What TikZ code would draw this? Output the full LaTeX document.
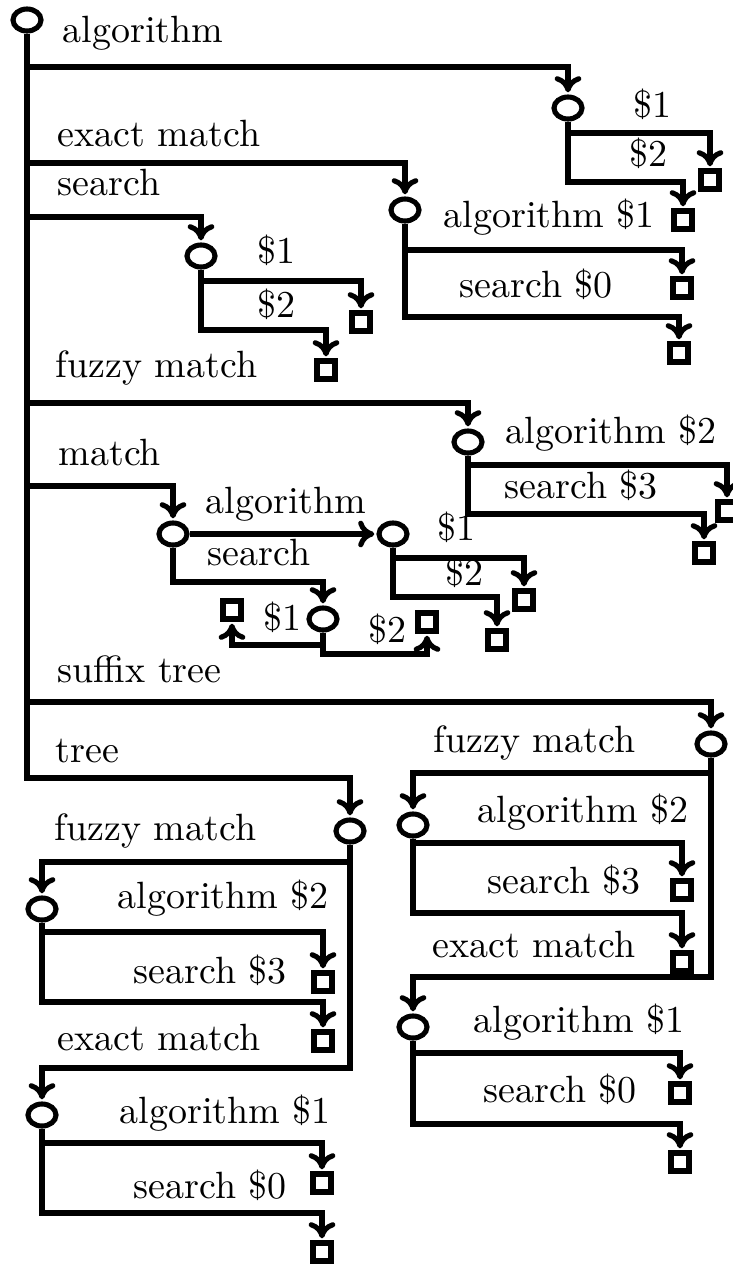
\documentclass[tikz,border=0pt]{standalone}
\usepackage{tikz}
\usetikzlibrary{arrows.meta,shapes.geometric}

\begin{document}
\begin{tikzpicture}[
  x=0.01cm, y=-0.01cm, >={Computer Modern Rightarrow[length=4.6pt,width=7.6pt]},
  state/.style={draw, ellipse, line width=1.45pt, minimum width=0.28cm, minimum height=0.22cm, inner sep=0pt},
  leaf/.style={draw, rectangle, line width=1.45pt, minimum size=0.18cm, inner sep=0pt},
  arrow/.style={->, line width=1.45pt, shorten >=0.6pt},
  lbl/.style={anchor=base west, inner sep=0pt, font=\fontsize{10.8}{13}\selectfont}
]
\useasboundingbox (0,0) rectangle (733,1266);

% states and leaves
\node[state] (root) at (27,20) {};
\node[state] (alg) at (568,108) {};
\node[leaf] (alg1) at (710,180) {};
\node[leaf] (alg2) at (683,220) {};
\node[state] (exact) at (405,210) {};
\node[leaf] (exact1) at (682,288) {};
\node[leaf] (exact2) at (679,353) {};
\node[state] (srch) at (201,256) {};
\node[leaf] (srch1) at (361,322) {};
\node[leaf] (srch2) at (326,370) {};
\node[state] (fuzzy) at (468,442) {};
\node[leaf] (fuzzy1) at (727,511) {};
\node[leaf] (fuzzy2) at (704,553) {};
\node[state] (match) at (173,534) {};
\node[state] (malg) at (393,534) {};
\node[leaf] (malg1) at (524,600) {};
\node[leaf] (malg2) at (497,640) {};
\node[state] (msrch) at (323,619) {};
\node[leaf] (msrch1) at (232,610) {};
\node[leaf] (msrch2) at (427,622) {};
\node[state] (sfx) at (711,744) {};
\node[state] (sfxf) at (413,825) {};
\node[leaf] (sfxf1) at (682,890) {};
\node[leaf] (sfxf2) at (682,962) {};
\node[state] (sfxe) at (413,1027) {};
\node[leaf] (sfxe1) at (680,1093) {};
\node[leaf] (sfxe2) at (680,1162) {};
\node[state] (tree) at (350,831) {};
\node[state] (treef) at (42,909) {};
\node[leaf] (treef1) at (323,982) {};
\node[leaf] (treef2) at (323,1041) {};
\node[state] (treee) at (42,1115) {};
\node[leaf] (treee1) at (322,1183) {};
\node[leaf] (treee2) at (322,1252) {};

% labels
\node[lbl] (l-alg) at (62,42) {algorithm};
\node[lbl] (l-exact) at (57,146) {exact match};
\node[lbl] (l-srch) at (57,195) {search};
\node[lbl] (l-fuzzy) at (55,377) {fuzzy match};
\node[lbl] (l-match) at (58,465) {match};
\node[lbl] (l-sfx) at (57,682) {suffix tree};
\node[lbl] (l-tree) at (55,762) {tree};
\node[lbl] (l-alg1) at (633,117) {\$1};
\node[lbl] (l-alg2) at (629,166) {\$2};
\node[lbl] (l-exact1) at (443,227) {algorithm \$1};
\node[lbl] (l-exact2) at (459,297) {search \$0};
\node[lbl] (l-srch1) at (257,263) {\$1};
\node[lbl] (l-srch2) at (257,317) {\$2};
\node[lbl] (l-fuzzy1) at (505,443) {algorithm \$2};
\node[lbl] (l-fuzzy2) at (504,498) {search \$3};
\node[lbl] (l-malg) at (205,513) {algorithm};
\node[lbl] (l-msrch) at (207,565) {search};
\node[lbl] (l-malg1) at (437,540) {\$1};
\node[lbl] (l-malg2) at (445,585) {\$2};
\node[lbl] (l-msrch1) at (263,630) {\$1};
\node[lbl] (l-msrch2) at (368,642) {\$2};
\node[lbl] (l-sfxf) at (433,752) {fuzzy match};
\node[lbl] (l-sfxe) at (432,957) {exact match};
\node[lbl] (l-sfxf1) at (477,822) {algorithm \$2};
\node[lbl] (l-sfxf2) at (487,893) {search \$3};
\node[lbl] (l-sfxe1) at (473,1032) {algorithm \$1};
\node[lbl] (l-sfxe2) at (483,1102) {search \$0};
\node[lbl] (l-treef) at (54,840) {fuzzy match};
\node[lbl] (l-treee) at (57,1050) {exact match};
\node[lbl] (l-treef1) at (117,908) {algorithm \$2};
\node[lbl] (l-treef2) at (133,983) {search \$3};
\node[lbl] (l-treee1) at (119,1123) {algorithm \$1};
\node[lbl] (l-treee2) at (133,1198) {search \$0};

% trunk
\draw[arrow] (root) -- (root |- 0,778) -| (tree);
\draw[arrow] (root |- 0,67) -| (alg);
\draw[arrow] (root |- 0,163) -| (exact);
\draw[arrow] (root |- 0,217) -| (srch);
\draw[arrow] (root |- 0,403) -| (fuzzy);
\draw[arrow] (root |- 0,486) -| (match);
\draw[arrow] (root |- 0,702) -| (sfx);
% algorithm
\draw[arrow] (alg) -- (alg |- 0,182) -| (alg2);
\draw[arrow] (alg |- 0,133) -| (alg1);
% exact match
\draw[arrow] (exact) -- (exact |- 0,317) -| (exact2);
\draw[arrow] (exact |- 0,250) -| (exact1);
% search
\draw[arrow] (srch) -- (srch |- 0,330) -| (srch2);
\draw[arrow] (srch |- 0,281) -| (srch1);
% fuzzy match
\draw[arrow] (fuzzy) -- (fuzzy |- 0,514) -| (fuzzy2);
\draw[arrow] (fuzzy |- 0,465) -| (fuzzy1);
% match
\draw[arrow] (match) -- (malg);
\draw[arrow] (match) -- (match |- 0,582) -| (msrch);
\draw[arrow] (malg) -- (malg |- 0,597) -| (malg2);
\draw[arrow] (malg |- 0,558) -| (malg1);
\draw[arrow] (msrch) -- (msrch |- 0,654) -| (msrch2);
\draw[arrow] (msrch |- 0,645) -| (msrch1);
% suffix tree
\draw[arrow] (sfx) -- (sfx |- 0,977) -| (sfxe);
\draw[arrow] (sfx |- 0,773) -| (sfxf);
\draw[arrow] (sfxf) -- (sfxf |- 0,913) -| (sfxf2);
\draw[arrow] (sfxf |- 0,843) -| (sfxf1);
\draw[arrow] (sfxe) -- (sfxe |- 0,1124) -| (sfxe2);
\draw[arrow] (sfxe |- 0,1053) -| (sfxe1);
% tree
\draw[arrow] (tree) -- (tree |- 0,1068) -| (treee);
\draw[arrow] (tree |- 0,862) -| (treef);
\draw[arrow] (treef) -- (treef |- 0,1002) -| (treef2);
\draw[arrow] (treef |- 0,932) -| (treef1);
\draw[arrow] (treee) -- (treee |- 0,1213) -| (treee2);
\draw[arrow] (treee |- 0,1143) -| (treee1);

\end{tikzpicture}
\end{document}
